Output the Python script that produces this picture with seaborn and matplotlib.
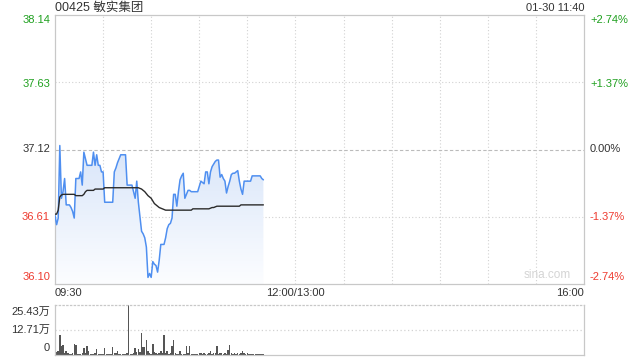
import numpy as np
import pandas as pd
import matplotlib
matplotlib.use('Agg')
import matplotlib.pyplot as plt
import seaborn as sns
from matplotlib.colors import LinearSegmentedColormap
from matplotlib.patches import PathPatch

sns.set_theme(style='white')
plt.rcParams['font.family'] = ['Liberation Sans', 'Noto Sans CJK SC', 'DejaVu Sans']

# ---------------- data ----------------
minutes = list(range(131))  # minutes since 09:30 (to 11:40)
price = [
    36.62, 36.55, 36.60, 37.15, 36.75, 36.80, 36.90, 36.70, 36.70, 36.70,
    36.68, 36.65, 36.60, 36.90, 36.90, 36.90, 36.95, 36.85, 37.10, 37.05,
    37.00, 37.00, 37.00, 37.00, 37.10, 37.00, 37.08, 37.00, 37.00, 36.95,
    36.95, 36.72, 36.72, 36.72, 36.72, 36.72, 36.72, 36.95, 36.98, 37.02,
    37.05, 37.08, 37.08, 37.08, 37.08, 36.85, 36.85, 36.85, 36.85, 36.80,
    36.75, 36.88, 36.72, 36.61, 36.50, 36.48, 36.45, 36.38, 36.15, 36.18,
    36.15, 36.27, 36.25, 36.24, 36.19, 36.28, 36.40, 36.40, 36.40, 36.45,
    36.52, 36.55, 36.56, 36.60, 36.78, 36.78, 36.69, 36.80, 36.89, 36.92,
    36.94, 36.75, 36.78, 36.81, 36.81, 36.80, 36.80, 36.80, 36.80, 36.80,
    36.84, 36.88, 36.87, 36.86, 36.95, 36.95, 36.86, 36.95, 36.99, 37.01,
    37.03, 37.04, 37.04, 36.91, 36.93, 36.90, 36.88, 36.79, 36.84, 36.88,
    36.93, 36.94, 36.94, 36.95, 36.96, 36.88, 36.82, 36.78, 36.88, 36.88,
    36.88, 36.88, 36.88, 36.92, 36.92, 36.92, 36.92, 36.92, 36.92, 36.90,
    36.89]
avg_price = [
    36.63, 36.63, 36.66, 36.76, 36.775, 36.78, 36.78, 36.78, 36.78, 36.78,
    36.78, 36.78, 36.78, 36.77, 36.77, 36.77, 36.77, 36.77, 36.78, 36.80,
    36.81, 36.81, 36.81, 36.81, 36.81, 36.82, 36.82, 36.82, 36.82, 36.82,
    36.82, 36.83, 36.83, 36.83, 36.83, 36.83, 36.83, 36.83, 36.83, 36.83,
    36.83, 36.83, 36.83, 36.83, 36.83, 36.83, 36.83, 36.83, 36.83, 36.83,
    36.83, 36.83, 36.83, 36.825, 36.82, 36.81, 36.80, 36.785, 36.77, 36.76,
    36.75, 36.73, 36.71, 36.70, 36.69, 36.68, 36.675, 36.67, 36.665, 36.66,
    36.66, 36.66, 36.66, 36.66, 36.66, 36.66, 36.66, 36.66, 36.66, 36.66,
    36.66, 36.66, 36.66, 36.66, 36.66, 36.66, 36.67, 36.67, 36.67, 36.67,
    36.67, 36.67, 36.67, 36.67, 36.67, 36.67, 36.67, 36.675, 36.68, 36.68,
    36.685, 36.69, 36.69, 36.69, 36.69, 36.69, 36.69, 36.69, 36.69, 36.69,
    36.69, 36.69, 36.69, 36.69, 36.69, 36.69, 36.70, 36.70, 36.70, 36.70,
    36.70, 36.70, 36.70, 36.70, 36.70, 36.70, 36.70, 36.70, 36.70, 36.70,
    36.70]
volume_wan = [
    21.0, 1.5, 2.2, 10.2, 4.6, 5.1, 0.8, 2.2, 1.0, 0.6,
    0.6, 0.8, 5.6, 5.1, 0.6, 0.5, 0.6, 0.8, 3.4, 1.0,
    4.6, 2.2, 0.6, 0.4, 0.5, 1.0, 2.9, 0.4, 0.3, 0.6,
    0.3, 3.4, 0.6, 0.3, 0.5, 0.3, 3.9, 0.8, 1.0, 2.2,
    0.3, 0.4, 0.3, 0.5, 0.6, 0.8, 25.43, 0.6, 0.6, 1.0,
    3.4, 1.5, 2.9, 1.5, 11.0, 3.9, 4.2, 7.6, 2.2, 1.0,
    0.5, 5.6, 1.5, 0.8, 0.6, 1.0, 2.2, 0.8, 10.2, 0.8,
    2.2, 0.6, 1.0, 4.6, 7.6, 1.2, 0.6, 0.5, 2.2, 0.6,
    0.6, 0.4, 4.6, 1.0, 4.6, 0.6, 0.6, 0.3, 0.6, 0.5,
    1.0, 0.8, 0.6, 0.8, 0.6, 0.6, 0.8, 2.2, 0.6, 1.0,
    0.8, 4.6, 0.6, 0.8, 1.0, 0.6, 1.0, 0.6, 2.5, 5.1,
    1.0, 0.6, 0.8, 0.6, 1.0, 0.6, 0.8, 2.2, 1.0, 0.6,
    0.8, 0.6, 0.6, 0.5, 0.6, 0.5, 0.4, 0.4, 0.3, 0.3,
    0.3]
prev_close = 37.12
price_ticks = [38.14, 37.63, 37.12, 36.61, 36.10]
pct_labels = ['+2.74%', '+1.37%', '0.00%', '-1.37%', '-2.74%']
vol_ticks = [25.43, 12.71, 0]
vol_labels = ['25.43万', '12.71万', '0']
time_labels = ['09:30', '12:00/13:00', '16:00']
title_text = '00425 敏实集团'
stamp_text = '01-30 11:40'

df = pd.DataFrame({'t': minutes, 'price': price, 'avg': avg_price, 'vol': volume_wan})

# ---------------- layout ----------------
W, H = 640, 360
fig = plt.figure(figsize=(6.4, 3.6), dpi=100)
fig.patch.set_facecolor('white')
ax = fig.add_axes([55 / W, 1 - 284 / H, 529 / W, 269 / H])
axv = fig.add_axes([55 / W, 1 - 355 / H, 529 / W, 50 / H])

GREEN = '#1fa01f'
RED = '#ee3b30'
DARK = '#333333'
GRID = '#d2d2d2'
FRAME = '#c8c8c8'

ymin, ymax = price_ticks[-1], price_ticks[0]

# gradient fill under price line
poly = ax.fill_between(df['t'], df['price'], ymin, color='none', lw=0)
path = poly.get_paths()[0]
patch = PathPatch(path, transform=ax.transData, facecolor='none', edgecolor='none')
ax.add_patch(patch)
cmap = LinearSegmentedColormap.from_list('g', ['#fcfdff', '#d8e5f9'])
grad = np.linspace(0, 1, 256).reshape(-1, 1)
im = ax.imshow(grad, cmap=cmap, aspect='auto', origin='lower',
               extent=[0, len(minutes) - 1, ymin, max(price)], zorder=1)
im.set_clip_path(patch)

# grid
for xv in range(30, 330, 30):
    ax.axvline(xv, color=GRID, lw=0.8, ls=(0, (1, 2)), zorder=0.5)
ax.axhline(price_ticks[1], color=GRID, lw=0.8, ls=(0, (1, 2)), zorder=0.5)
ax.axhline(price_ticks[3], color=GRID, lw=0.8, ls=(0, (1, 2)), zorder=0.5)
ax.axhline(prev_close, color='#bbbbbb', lw=0.8, ls=(0, (3, 2)), zorder=0.5)

sns.lineplot(data=df, x='t', y='price', color='#4f8ff0', lw=1.1, ax=ax, zorder=3)
sns.lineplot(data=df, x='t', y='avg', color='#2b2b2b', lw=1.0, ax=ax, zorder=4)

ax.set_xlim(0, 330)
ax.set_ylim(ymin, ymax)
ax.set_xticks([]); ax.set_yticks([])
ax.set_xlabel(''); ax.set_ylabel('')
for s in ax.spines.values():
    s.set_color(FRAME); s.set_linewidth(0.9)
ax.text(0.975, 0.012, 'sina.com', transform=ax.transAxes, ha='right', va='bottom',
        color='#d4d4d4', fontsize=8.5)

# volume
sns.barplot(data=df, x='t', y='vol', native_scale=True, color='#555555',
            width=0.9, errorbar=None, linewidth=0, saturation=1, ax=axv)
axv.set_xlim(0, 330)
axv.set_ylim(0, vol_ticks[0])
axv.set_xticks([]); axv.set_yticks([])
axv.set_xlabel(''); axv.set_ylabel('')
axv.axhline(vol_ticks[1], color=GRID, lw=0.9, ls=(0, (1, 2)))
for s in axv.spines.values():
    s.set_color(FRAME); s.set_linewidth(0.9)
axv.spines['top'].set_linestyle((0, (1, 2)))

# texts
def px(x, y):
    return x / W, 1 - y / H

lab_y = [20, 84, 149, 217, 277]
cols = [GREEN, GREEN, DARK, RED, RED]
for v, pl, yy, c in zip(price_ticks, pct_labels, lab_y, cols):
    fig.text(*px(50, yy), f'{v:.2f}', ha='right', va='center', color=c, fontsize=8)
    fig.text(*px(590, yy), pl, ha='left', va='center', color=c, fontsize=8)

for lbl, yy in zip(vol_labels, [312, 330, 348]):
    fig.text(*px(50, yy), lbl, ha='right', va='center', color=DARK, fontsize=8)

fig.text(*px(55, 293), time_labels[0], ha='left', va='center', color=DARK, fontsize=8)
fig.text(*px(295, 293), time_labels[1], ha='center', va='center', color=DARK, fontsize=8)
fig.text(*px(584, 293), time_labels[2], ha='right', va='center', color=DARK, fontsize=8)

fig.text(*px(55, 8), title_text, ha='left', va='center', color=DARK, fontsize=9)
fig.text(*px(584, 8), stamp_text, ha='right', va='center', color=DARK, fontsize=8)

fig.savefig('out.png', dpi=100, facecolor='white')
